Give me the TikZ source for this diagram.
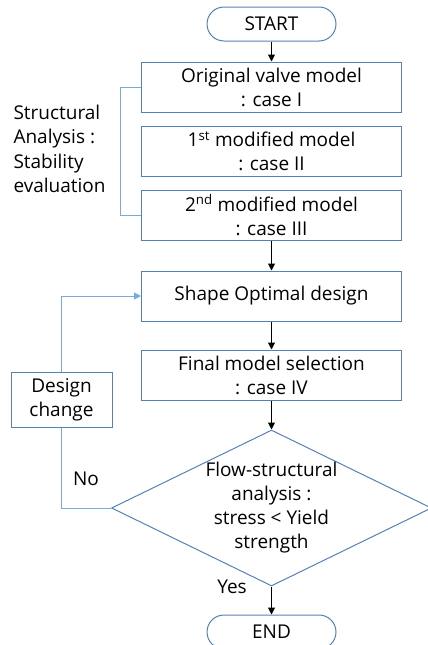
\documentclass[tikz,border=0pt]{standalone}
\usepackage{fontspec}
\setmainfont{Open Sans}
\usetikzlibrary{arrows.meta,shapes.geometric,positioning}
\definecolor{boxColor}{RGB}{84,130,180}
\definecolor{loopColor}{RGB}{120,170,222}
\tikzset{process/.style={draw=boxColor, line width=1pt, align=center, minimum width=260pt, minimum height=50pt, inner sep=2pt, font=\fontsize{19}{24}\selectfont}}
\tikzset{terminal/.style={process, minimum width=129pt, minimum height=34pt, rounded corners=17pt}}
\tikzset{decision/.style={process, diamond, aspect=2.05, minimum width=320pt, minimum height=156pt, inner sep=0pt}}
\tikzset{flow/.style={line width=1pt, -{Triangle[length=7pt,width=7pt]}}}
\tikzset{feedback/.style={draw=loopColor, line width=1pt}}

\begin{document}
\begin{tikzpicture}[x=1pt, y=-1pt, node distance=28pt]
\useasboundingbox (0,0) rectangle (428,645);
% Nodes
\node (start) [terminal] at (271.5,24) {START};
\node (original) [process, below=20pt of start] {Original valve model\\: case I};
\node (first) [process, below=13pt of original] {1\textsuperscript{st} modified model\\: case II};
\node (second) [process, below=13pt of first] {2\textsuperscript{nd} modified model\\: case III};
\node (optimal) [process, below=30pt of second] {Shape Optimal design};
\node (final) [process, below=of optimal] {Final model selection\\: case IV};
\node (check) [decision, below=29pt of final] {Flow-structural\\analysis :\\stress < Yield\\strength};
\node (end) [terminal, below=of check] {END};
\node (change) [process, minimum width=101pt, minimum height=55pt] at (61.5,399.5) {Design\\change};
\node (stability) [anchor=west, align=left, font=\fontsize{19}{24.5}\selectfont] at (10,149) {Structural\\Analysis :\\Stability\\evaluation};
\node (no) [font=\fontsize{19}{24}\selectfont] at (86,479) {No};
\node (yes) [font=\fontsize{19}{24}\selectfont] at (232,587) {Yes};

% Connectors
\begin{scope}[flow]
\draw (start) -- (original);
\draw (second) -- (optimal);
\draw (optimal) -- (final);
\draw (final) -- (check);
\draw (check) -- (end);
\end{scope}

\draw [feedback] (original.west) -- ++(-21,0) |- (second.west);
\draw [feedback] (check.west) -| (change.south);
\draw [feedback, -{Triangle[length=7pt,width=7pt]}, loopColor] (change.north) |- (optimal.west);

\end{tikzpicture}
\end{document}
